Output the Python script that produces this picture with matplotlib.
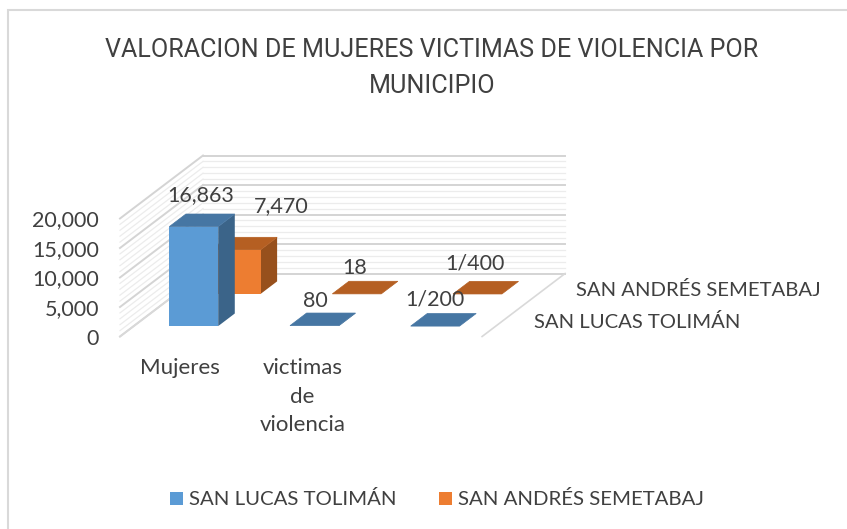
import matplotlib

matplotlib.use("Agg")
import matplotlib.pyplot as plt  # noqa: E402
from matplotlib.patches import Polygon, Rectangle  # noqa: E402

plt.rcParams["font.family"] = ["Lato", "DejaVu Sans"]

title = "VALORACION DE MUJERES VICTIMAS DE VIOLENCIA POR\nMUNICIPIO"
categories = ["Mujeres", "victimas\nde\nviolencia", ""]
series_names = ["SAN LUCAS TOLIMÁN", "SAN ANDRÉS SEMETABAJ"]
san_lucas = [16863, 80, 0.005]
san_andres = [7470, 18, 0.0025]
san_lucas_labels = ["16,863", "80", "1/200"]
san_andres_labels = ["7,470", "18", "1/400"]
value_ticks = [0, 5000, 10000, 15000, 20000]
tick_labels = ["0", "5,000", "10,000", "15,000", "20,000"]

W, H = 847, 529
TEXT = "#404040"
FACE = ["#5b9bd5", "#ed7d31"]
TOP = ["#4676a3", "#b55f22"]
SIDE = ["#3b6489", "#97501c"]

# 3d look: x is category slot, y is value, depth shears up and right
PX_CAT = 120.7
PX_VAL = 118 / 20000
DEPTH_X, DEPTH_Y = 83 / PX_CAT, 63 / PX_VAL
ROW_START = [0.165, 0.675]
BAR_DEPTH = 0.2
BAR_LEFT, BAR_WIDTH = 0.295, 0.405

# label nudges in pixels, Excel placed these by hand
LUCAS_NUDGE = [(-10, 9), (-16, 2), (-17, 4)]
ANDRES_NUDGE = [(29, 21), (-19, 3), (-19, 8)]


def proj(x, v, d=0.0):
    return x + d * DEPTH_X, v + d * DEPTH_Y


def poly(ax, pts, color, z, lw=0.0):
    ax.add_patch(Polygon([proj(*p) for p in pts], closed=True, fc=color, ec=color, lw=lw, zorder=z))


def draw_bar(ax, cat, val, row, z):
    x0, x1 = cat + BAR_LEFT, cat + BAR_LEFT + BAR_WIDTH
    d0, d1 = ROW_START[row], ROW_START[row] + BAR_DEPTH
    poly(ax, [(x1, 0, d0), (x1, 0, d1), (x1, val, d1), (x1, val, d0)], SIDE[row], z)
    poly(ax, [(x0, val, d0), (x1, val, d0), (x1, val, d1), (x0, val, d1)], TOP[row], z, lw=0.5)
    poly(ax, [(x0, 0, d0), (x1, 0, d0), (x1, val, d0), (x0, val, d0)], FACE[row], z)


def bar_label(ax, cat, val, row, lab, nudge):
    xy = proj(cat + BAR_LEFT + BAR_WIDTH / 2, val, ROW_START[row] + BAR_DEPTH)
    ax.annotate(lab, xy, xytext=nudge, textcoords="offset pixels", ha="center", va="bottom",
                fontsize=15.5, color=TEXT, zorder=6)


fig = plt.figure(figsize=(W / 100, H / 100), dpi=100)
ax = fig.add_axes([0, 0, 1, 1])
ax.set_xlim(-120 / PX_CAT, (W - 120) / PX_CAT)
ax.set_ylim((336.5 - H) / PX_VAL, 336.5 / PX_VAL)
ax.axis("off")

# chart border
fig.add_artist(Rectangle((8 / W, -0.02), (W - 8 + 20) / W, 1 - 10 / H + 0.02, transform=fig.transFigure,
                         fc="none", ec="#d9d9d9", lw=1.5))

# back and side walls
for v in range(0, 20001, 1000):
    major = v % 5000 == 0
    color = "#d4d4d4" if major else "#ececec"
    lw = 1.4 if major else 0.9
    ax.plot(*zip(proj(0, v, 1), proj(3, v, 1)), color=color, lw=lw, zorder=1)
    ax.plot(*zip(proj(0, v, 0), proj(0, v, 1)), color=color, lw=lw, zorder=1)
ax.plot(*zip(proj(3, 0, 0), proj(3, 0, 1)), color="#d9d9d9", lw=1.2, zorder=1)
ax.plot(*zip(proj(0, 0, 0), proj(0, 0, 1)), color="#d9d9d9", lw=1.2, zorder=1)

for i, val in enumerate(san_andres):
    draw_bar(ax, i, val, 1, 3)
for i, val in enumerate(san_lucas):
    draw_bar(ax, i, val, 0, 4)

for i, lab in enumerate(san_andres_labels):
    bar_label(ax, i, san_andres[i], 1, lab, ANDRES_NUDGE[i])
for i, lab in enumerate(san_lucas_labels):
    bar_label(ax, i, san_lucas[i], 0, lab, LUCAS_NUDGE[i])

for v, lab in zip(value_ticks, tick_labels):
    ax.text(-0.175, v - 340, lab, ha="right", va="center", fontsize=15.5, color=TEXT)

for i, lab in enumerate(categories):
    ax.text(i + 0.5 + 0.01 * i, -3700, lab, ha="center", va="top", fontsize=16, color=TEXT, linespacing=1.53)

# series axis labels
x, y = proj(3, 0, ROW_START[0] + BAR_DEPTH / 2)
ax.text(x + 0.245, y - 400, series_names[0], ha="left", va="center", fontsize=14.6, color=TEXT)
x, y = proj(3, 0, ROW_START[1] + BAR_DEPTH / 2)
ax.text(x + 0.245, y - 400, series_names[1], ha="left", va="center", fontsize=14.6, color=TEXT)

fig.text(432 / W, 1 - 68 / H, title, ha="center", va="center", fontsize=18.1, family=["Roboto", "DejaVu Sans"],
         color=TEXT, linespacing=1.68)

# legend
leg_y = 1 - 498 / H
for name, color, bx in zip(series_names, FACE, [170, 439]):
    fig.add_artist(Rectangle((bx / W, leg_y - 7 / H), 13 / W, 13 / H, transform=fig.transFigure, fc=color, ec="none"))
    fig.text((bx + 19) / W, leg_y - 1 / H, name, ha="left", va="center", fontsize=14.7, color=TEXT)

fig.savefig("out.png", dpi=100)
plt.close(fig)
